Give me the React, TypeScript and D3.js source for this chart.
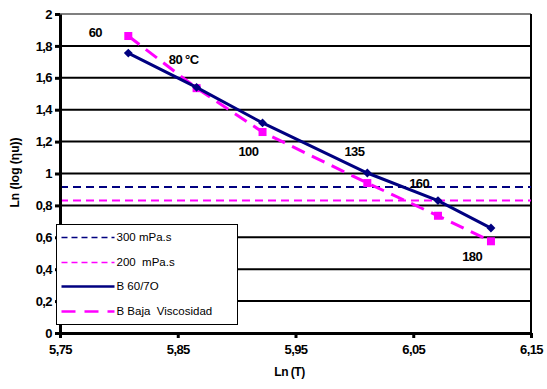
import React, { useEffect, useRef } from 'react';
import * as d3 from 'd3';

// Ln(T) for 60, 80, 100, 135, 160, 180 °C
const lnT = [5.808, 5.866, 5.922, 6.011, 6.071, 6.116];
const b6070 = [1.755, 1.54, 1.317, 1.003, 0.83, 0.658];
const bBaja = [1.862, 1.535, 1.26, 0.94, 0.735, 0.575];
const ref300 = 0.915;
const ref200 = 0.83;

const yTicks = [0, 0.2, 0.4, 0.6, 0.8, 1, 1.2, 1.4, 1.6, 1.8, 2];
const xTicks = [5.75, 5.85, 5.95, 6.05, 6.15];

// point labels: [x, y, text]
const pointLabels: [number, number, string][] = [
  [5.78, 1.875, '60'],
  [5.855, 1.71, '80 °C'],
  [5.91, 1.13, '100'],
  [6.0, 1.13, '135'],
  [6.055, 0.93, '160'],
  [6.1, 0.47, '180'],
];

const legendItems = [
  { label: '300 mPa.s', color: '#000080', dash: '6,4', width: 1.5 },
  { label: '200  mPa.s', color: '#ff00ff', dash: '6,4', width: 1.5 },
  { label: 'B 60/7O', color: '#000080', dash: null, width: 2.5 },
  { label: 'B Baja  Viscosidad', color: '#ff00ff', dash: '14,9', width: 2.5 },
];

const fmt = (d: number) => String(d).replace('.', ',');

const App: React.FC = () => {
  const ref = useRef<SVGSVGElement | null>(null);

  useEffect(() => {
    const svg = d3.select(ref.current);
    svg.selectAll('*').remove();

    const left = 60, right = 531, top = 14, bottom = 333;
    const x = d3.scaleLinear().domain([5.75, 6.15]).range([left, right]);
    const y = d3.scaleLinear().domain([0, 2]).range([bottom, top]);
    const font = 'Liberation Sans, Arial, sans-serif';

    svg.append('rect').attr('width', 547).attr('height', 389).attr('fill', 'white');

    // top and right frame
    svg.append('line').attr('x1', left).attr('x2', right).attr('y1', top).attr('y2', top)
      .attr('stroke', '#555').attr('stroke-width', 1.5);
    svg.append('line').attr('x1', right).attr('x2', right).attr('y1', top).attr('y2', bottom)
      .attr('stroke', '#000').attr('stroke-width', 2);

    // gridlines
    svg.append('g').selectAll('line').data(yTicks.slice(1, -1)).enter().append('line')
      .attr('x1', left).attr('x2', right)
      .attr('y1', d => y(d)).attr('y2', d => y(d))
      .attr('stroke', '#000').attr('stroke-width', 2);

    // reference lines
    svg.append('line').attr('x1', left).attr('x2', right).attr('y1', y(ref300)).attr('y2', y(ref300))
      .attr('stroke', '#000080').attr('stroke-width', 2).attr('stroke-dasharray', '8,5');
    svg.append('line').attr('x1', left).attr('x2', right).attr('y1', y(ref200)).attr('y2', y(ref200))
      .attr('stroke', '#ff00ff').attr('stroke-width', 2).attr('stroke-dasharray', '8,5');

    // axes
    const yAxis = svg.append('g').attr('transform', `translate(${left},0)`)
      .call(d3.axisLeft(y).tickValues(yTicks).tickFormat(d => fmt(d as number)).tickSize(5).tickSizeOuter(0));
    const xAxis = svg.append('g').attr('transform', `translate(0,${bottom})`)
      .call(d3.axisBottom(x).tickValues(xTicks).tickFormat(d => fmt(d as number)).tickSize(5).tickSizeOuter(0));
    [yAxis, xAxis].forEach(a => {
      a.select('.domain').attr('stroke', '#000').attr('stroke-width', 3);
      a.selectAll('.tick line').attr('stroke', '#000').attr('stroke-width', 3);
      a.selectAll('.tick text').attr('fill', '#000')
        .style('font-family', font).style('font-size', '13px').style('font-weight', 'bold')
        .style('letter-spacing', '-0.6px');
    });
    yAxis.selectAll('.tick text').attr('x', -8);
    xAxis.selectAll('.tick text').attr('y', 12);

    // axis titles
    svg.append('text').attr('x', (left + right) / 2 - 6).attr('y', 376).attr('text-anchor', 'middle')
      .style('font-family', font).style('font-size', '12px').style('font-weight', 'bold')
      .style('letter-spacing', '-0.5px')
      .text('Ln (T)');
    svg.append('text').attr('transform', `translate(19,${(132 + 213) / 2}) rotate(-90)`)
      .attr('text-anchor', 'middle')
      .style('font-family', font).style('font-size', '12px').style('font-weight', 'bold')
      .text('Ln (log (ηu))');

    // series
    const pts = (vals: number[]) => lnT.map((t, i) => [t, vals[i]] as [number, number]);
    const line = d3.line<[number, number]>().x(d => x(d[0])).y(d => y(d[1]));

    svg.append('path').attr('d', line(pts(bBaja))).attr('fill', 'none')
      .attr('stroke', '#ff00ff').attr('stroke-width', 3).attr('stroke-dasharray', '14,8');
    svg.append('g').selectAll('rect').data(pts(bBaja)).enter().append('rect')
      .attr('x', d => x(d[0]) - 4).attr('y', d => y(d[1]) - 4)
      .attr('width', 8).attr('height', 8).attr('fill', '#ff00ff');

    svg.append('path').attr('d', line(pts(b6070))).attr('fill', 'none')
      .attr('stroke', '#000080').attr('stroke-width', 3);
    svg.append('g').selectAll('path').data(pts(b6070)).enter().append('path')
      .attr('d', d3.symbol(d3.symbolDiamond2, 50)())
      .attr('transform', d => `translate(${x(d[0])},${y(d[1])})`)
      .attr('fill', '#000080');

    // point labels
    svg.append('g').selectAll('text').data(pointLabels).enter().append('text')
      .attr('x', d => x(d[0])).attr('y', d => y(d[1]))
      .attr('text-anchor', 'middle').attr('dominant-baseline', 'middle')
      .style('font-family', font).style('font-size', '13px').style('font-weight', 'bold')
      .style('letter-spacing', '-0.6px')
      .text(d => d[2]);

    // legend
    const lg = svg.append('g').attr('transform', 'translate(56.5,224.5)');
    lg.append('rect').attr('width', 181).attr('height', 100)
      .attr('fill', 'white').attr('stroke', '#000').attr('stroke-width', 1);
    legendItems.forEach((it, i) => {
      const cy = Math.round(13 + i * 24.5);
      lg.append('line').attr('x1', 5).attr('x2', 58).attr('y1', cy).attr('y2', cy)
        .attr('stroke', it.color).attr('stroke-width', it.width)
        .attr('stroke-dasharray', it.dash ?? null);
      lg.append('text').attr('x', 60).attr('y', cy).attr('dominant-baseline', 'middle')
        .style('font-family', font).style('font-size', '11.5px').style('white-space', 'pre')
        .attr('fill', '#000')
        .text(it.label);
    });
  }, []);

  return <svg ref={ref} width={547} height={389} style={{ position: 'absolute', left: 0, top: 0 }} />;
};

export default App;
